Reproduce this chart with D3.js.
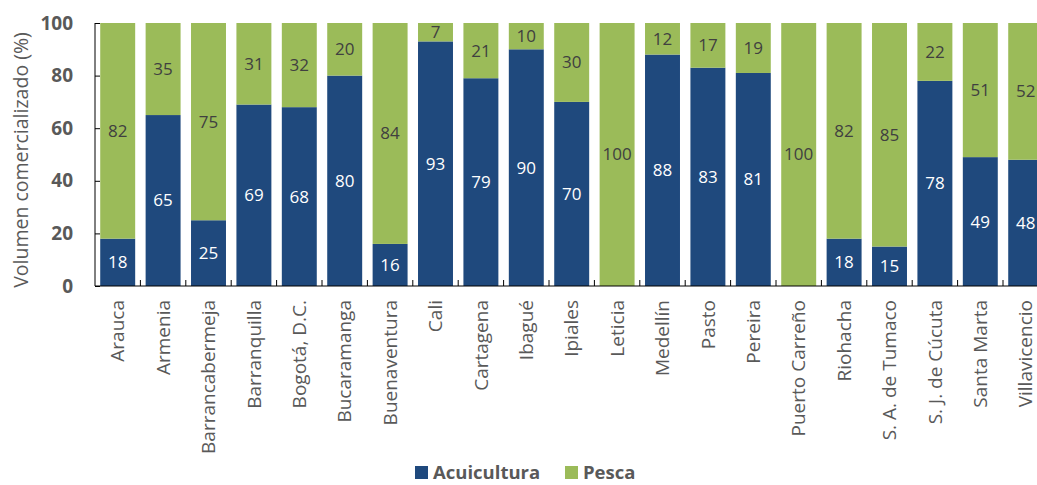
<!DOCTYPE html>
<html><head><meta charset="utf-8">
<script src="https://cdn.jsdelivr.net/npm/d3@7"></script>
<style>body{margin:0;background:#fff;} svg{display:block;font-family:"Open Sans",sans-serif;}</style>
</head><body><svg id="c" width="1037" height="485"></svg>
<script>
const categories = ["Arauca","Armenia","Barrancabermeja","Barranquilla","Bogotá, D.C.","Bucaramanga","Buenaventura","Cali","Cartagena","Ibagué","Ipiales","Leticia","Medellín","Pasto","Pereira","Puerto Carreño","Riohacha","S. A. de Tumaco","S. J. de Cúcuta","Santa Marta","Villavicencio"];
const acuicultura = [18,65,25,69,68,80,16,93,79,90,70,0,88,83,81,0,18,15,78,49,48];
const pesca = [82,35,75,31,32,20,84,7,21,10,30,100,12,17,19,100,82,85,22,51,52];
const yTicks = [0,20,40,60,80,100];
const seriesNames = ["Acuicultura","Pesca"];
const colors = {"Acuicultura":"#1f497d","Pesca":"#9bbb59"};

const svg = d3.select("#c");
const x = d3.scaleBand().domain(categories).range([95, 95+21*45.4]).paddingInner(0.23).paddingOuter(0.115);
const y = d3.scaleLinear().domain([0,100]).range([286,23]);

const rows = categories.map((c,i)=>({cat:c,"Acuicultura":acuicultura[i],"Pesca":pesca[i]}));
const stack = d3.stack().keys(seriesNames)(rows);

const g = svg.append("g");
stack.forEach(s=>{
  g.selectAll(null).data(s).join("rect")
    .attr("x",d=>x(d.data.cat)).attr("width",x.bandwidth())
    .attr("y",d=>y(d[1])).attr("height",d=>y(d[0])-y(d[1]))
    .attr("fill",colors[s.key]);
  g.selectAll(null).data(s.filter(d=>d[1]-d[0]>0)).join("text")
    .attr("x",d=>x(d.data.cat)+x.bandwidth()/2)
    .attr("y",d=>y((d[0]+d[1])/2))
    .attr("dy","0.35em").attr("text-anchor","middle")
    .attr("font-size",17)
    .attr("fill",s.key==="Acuicultura"?"#ffffff":"#404040")
    .text(d=>d[1]-d[0]);
});

// y axis
const ya = svg.append("g").attr("transform","translate(95,0)")
  .call(d3.axisLeft(y).tickValues(yTicks).tickSize(-5).tickPadding(22));
ya.select(".domain").attr("stroke","#000").attr("d","M0,"+y(100)+"V"+y(0));
ya.selectAll(".tick line").attr("stroke","#000");
ya.selectAll("text").attr("font-size",19).attr("font-weight","bold").attr("fill","#595959").attr("font-family","'Open Sans',sans-serif");

// x axis
const xa = svg.append("g").attr("transform","translate(0,286)")
  .call(d3.axisBottom(x).tickSize(0).tickPadding(10));
xa.select(".domain").attr("stroke","#000").attr("d","M95,0H1048");
xa.selectAll(".tick text").attr("transform","rotate(-90)").attr("text-anchor","end")
  .attr("x",-14).attr("y",0).attr("dy","0.35em")
  .attr("font-size",19).attr("fill","#595959").attr("font-family","'Open Sans',sans-serif");
// category boundary ticks
const step = x.step();
svg.append("g").selectAll("line").data(d3.range(1,categories.length)).join("line")
  .attr("x1",i=>95+i*step).attr("x2",i=>95+i*step)
  .attr("y1",286).attr("y2",280).attr("stroke","#000");

// y title
svg.append("text").attr("transform","translate(28,160) rotate(-90)")
  .attr("text-anchor","middle").attr("font-size",19.5).attr("fill","#595959")
  .text("Volumen comercializado (%)");

// legend
const leg = svg.append("g").attr("transform","translate(415,466)");
const items = [{k:"Acuicultura",x:0},{k:"Pesca",x:150}];
items.forEach(it=>{
  leg.append("rect").attr("x",it.x).attr("y",0).attr("width",13).attr("height",13).attr("fill",colors[it.k]);
  leg.append("text").attr("x",it.x+18).attr("y",7).attr("dy","0.35em").attr("font-size",18.5).attr("font-weight","bold").attr("fill","#595959").text(it.k);
});
</script></body></html>
